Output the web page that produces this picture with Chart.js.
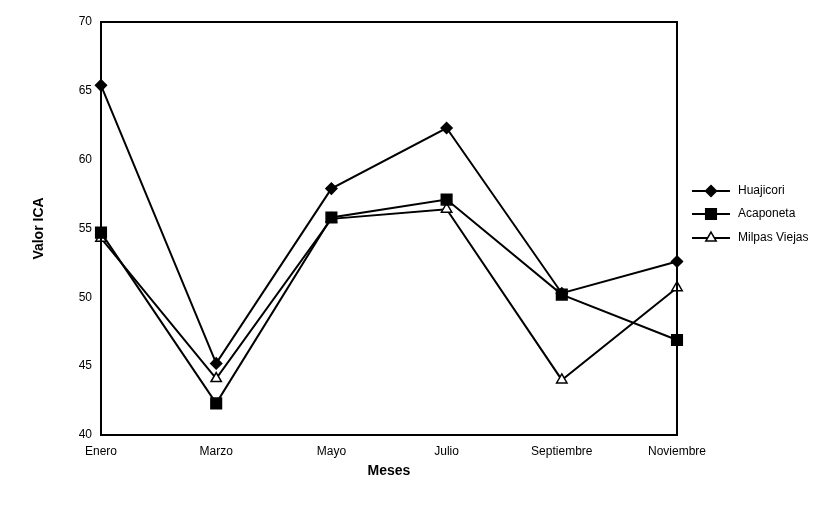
<!DOCTYPE html>
<html>
<head>
<meta charset="utf-8">
<script src="https://cdn.jsdelivr.net/npm/chart.js@4/dist/chart.umd.min.js"></script>
<style>
  html, body { margin: 0; padding: 0; background: #fff; }
  #wrap { width: 833px; height: 508px; }
</style>
</head>
<body>
<div id="wrap"><canvas id="icaChart" width="833" height="508"></canvas></div>
<script>
// --- datos del gráfico ---
const meses = ['Enero', 'Marzo', 'Mayo', 'Julio', 'Septiembre', 'Noviembre'];
const huajicori = [65.4, 45.2, 57.9, 62.3, 50.3, 52.6];
const acaponeta = [54.7, 42.3, 55.8, 57.1, 50.2, 46.9];
const milpasViejas = [54.3, 44.1, 55.7, 56.4, 44.0, 50.7];
const yTicks = [40, 45, 50, 55, 60, 65, 70];

const fuente = "'Liberation Sans', Arial, Helvetica, sans-serif";

// Marco completo alrededor del área de trazado + leyenda estilo línea con marcador
const marcoYLeyenda = {
    id: 'marcoYLeyenda',
    afterDatasetsDraw(chart) {
        const ctx = chart.ctx;
        const a = chart.chartArea;
        ctx.save();
        ctx.strokeStyle = '#000';
        ctx.lineWidth = 2;
        ctx.strokeRect(a.left, a.top, a.right - a.left, a.bottom - a.top);

        // leyenda a la derecha
        const x0 = a.right + 15;
        const filas = [191, 214, 238];
        chart.data.datasets.forEach((ds, i) => {
            const y = filas[i];
            ctx.strokeStyle = '#000';
            ctx.lineWidth = 2;
            ctx.beginPath();
            ctx.moveTo(x0, y);
            ctx.lineTo(x0 + 38, y);
            ctx.stroke();
            // marcador con el mismo relleno que en el gráfico
            ctx.fillStyle = ds.pointBackgroundColor;
            ctx.lineWidth = ds.pointBorderWidth;
            Chart.helpers.drawPoint(ctx, {
                pointStyle: ds.pointStyle,
                radius: ds.pointRadius,
                borderWidth: ds.pointBorderWidth
            }, x0 + 19, y);
            ctx.fillStyle = '#000';
            ctx.font = '12px ' + fuente;
            ctx.textAlign = 'left';
            ctx.textBaseline = 'middle';
            ctx.fillText(ds.label, x0 + 46, y);
        });
        ctx.restore();
    }
};

function serie(label, data, estilo, radio, relleno) {
    return {
        label: label,
        data: data,
        borderColor: '#000',
        borderWidth: 2,
        pointStyle: estilo,
        pointRadius: radio,
        pointHoverRadius: radio,
        pointBackgroundColor: relleno,
        pointBorderColor: '#000',
        pointBorderWidth: 1.5,
        tension: 0,
        fill: false
    };
}

const chart = new Chart(document.getElementById('icaChart'), {
    type: 'line',
    data: {
        labels: meses,
        datasets: [
            serie('Huajicori', huajicori, 'rectRot', 5.5, '#000'),
            serie('Acaponeta', acaponeta, 'rect', 7.5, '#000'),
            serie('Milpas Viejas', milpasViejas, 'triangle', 6, '#fff')
        ]
    },
    options: {
        responsive: false,
        animation: false,
        devicePixelRatio: 1,
        layout: { padding: { top: 22, right: 156, left: 0, bottom: 0 } },
        plugins: {
            legend: { display: false },
            tooltip: { enabled: false }
        },
        scales: {
            x: {
                offset: false,
                grid: { display: false, drawTicks: false },
                border: { display: false },
                ticks: {
                    color: '#000',
                    padding: 9,
                    maxRotation: 0,
                    autoSkip: false,
                    font: { family: fuente, size: 12 }
                },
                title: {
                    display: true,
                    text: 'Meses',
                    color: '#000',
                    font: { family: fuente, size: 14, weight: 'bold' },
                    padding: { top: 0, bottom: 28 }
                },
                afterFit(s) { s.height = 73; }
            },
            y: {
                min: 40,
                max: 70,
                afterBuildTicks(s) { s.ticks = yTicks.map(v => ({ value: v })); },
                grid: { display: false, drawTicks: false },
                border: { display: false },
                ticks: {
                    color: '#000',
                    padding: 9,
                    font: { family: fuente, size: 12 }
                },
                title: {
                    display: true,
                    text: 'Valor ICA',
                    color: '#000',
                    font: { family: fuente, size: 14, weight: 'bold' },
                    padding: { top: 31, bottom: 0 }
                },
                afterFit(s) { s.width = 101; }
            }
        }
    },
    plugins: [marcoYLeyenda]
});
</script>
</body>
</html>
